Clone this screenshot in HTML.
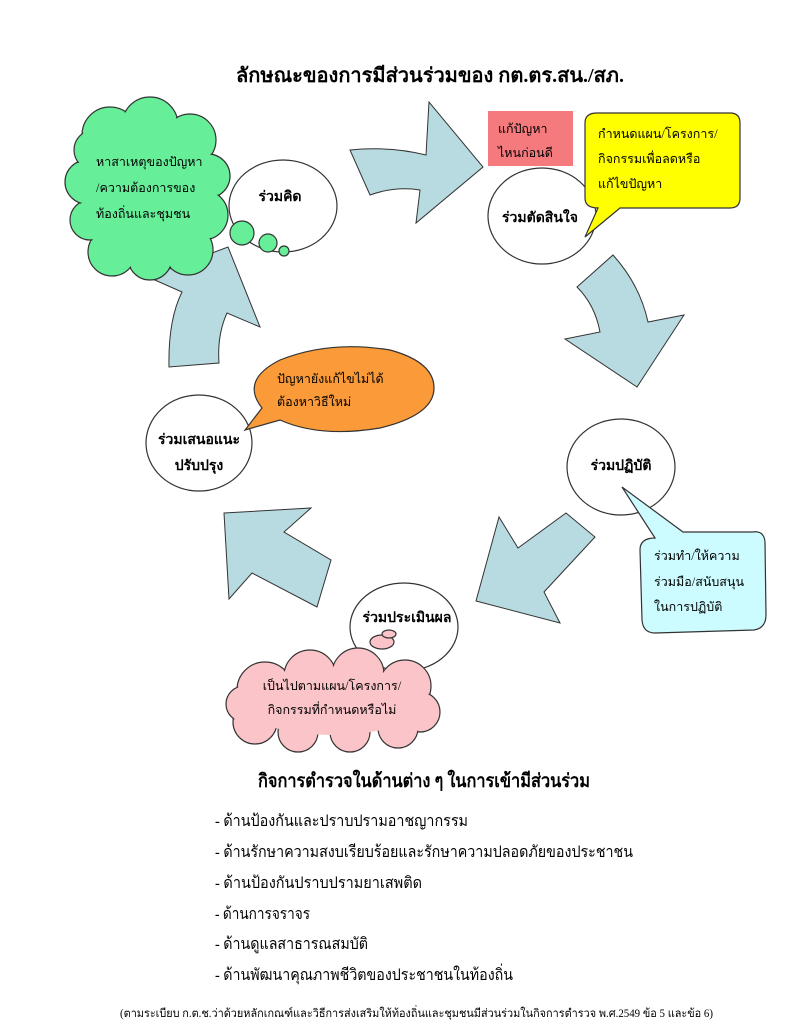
<!DOCTYPE html>
<html><head><meta charset="utf-8"><style>
html,body{margin:0;padding:0;background:#fff;width:798px;height:1024px;overflow:hidden}
svg{display:block}
text{font-family:"Liberation Serif","Noto Sans CJK SC",serif;fill:#000}
.lb{font-weight:bold;font-size:14px}
.sm{font-size:12.5px}
</style></head><body>
<svg width="798" height="1024" viewBox="0 0 798 1024" xmlns="http://www.w3.org/2000/svg">
<text x="430" y="82" text-anchor="middle" font-size="20" font-weight="bold">ลักษณะของการมีส่วนร่วมของ กต.ตร.สน./สภ.</text>

<!-- arrows -->
<g fill="#b7dbe0" stroke="#333" stroke-width="1">
<path d="M350,150 Q390,146 426,155 L429,102 L483,167 L416,223 L420,190 Q395,186 370,195 Z"/>
<path d="M577,287 L613,255 Q640,285 648,322 L684,315 L637,387 L565,339 L600,332 Q595,305 577,287 Z"/>
<polygon points="499,517 518,548 566,513 595,537 544,592 560,623 476,601"/>
<polygon points="224,513 311,508 284,532 331,560 317,607 252,573 229,599"/>
<path d="M169,367 Q168,320 182,292 L148,277 L228,247 L260,327 L227,313 Q217,335 219,363 Z"/>
</g>

<!-- green cloud -->
<g fill="#66ee99" stroke="#333" stroke-width="1.2">
<circle cx="110" cy="135" r="28"/><circle cx="150" cy="125" r="28"/><circle cx="190" cy="140" r="26"/>
<circle cx="208" cy="176" r="22"/><circle cx="203" cy="215" r="25"/><circle cx="188" cy="250" r="25"/>
<circle cx="150" cy="258" r="22"/><circle cx="112" cy="252" r="24"/><circle cx="90" cy="220" r="20"/>
<circle cx="87" cy="182" r="22"/><circle cx="94" cy="150" r="20"/>
</g>
<g fill="#66ee99">
<circle cx="110" cy="135" r="27"/><circle cx="150" cy="125" r="27"/><circle cx="190" cy="140" r="25"/>
<circle cx="208" cy="176" r="21"/><circle cx="203" cy="215" r="24"/><circle cx="188" cy="250" r="24"/>
<circle cx="150" cy="258" r="21"/><circle cx="112" cy="252" r="23"/><circle cx="90" cy="220" r="19"/>
<circle cx="87" cy="182" r="21"/><circle cx="94" cy="150" r="19"/>
<ellipse cx="148" cy="192" rx="62" ry="70"/>
</g>
<text class="sm" x="96" y="166">หาสาเหตุของปัญหา</text>
<text class="sm" x="96" y="192">/ความต้องการของ</text>
<text class="sm" x="96" y="218">ท้องถิ่นและชุมชน</text>

<!-- circles -->
<g fill="#fff" stroke="#333" stroke-width="1.2">
<ellipse cx="283" cy="206" rx="54" ry="46"/>
<ellipse cx="542" cy="216" rx="54" ry="48"/>
<ellipse cx="199" cy="443" rx="53" ry="48"/>
<ellipse cx="621" cy="467" rx="54" ry="48"/>
<ellipse cx="404" cy="627" rx="54" ry="44"/>
</g>
<g fill="#66ee99" stroke="#333" stroke-width="1.2">
<circle cx="242" cy="233" r="12"/><circle cx="268" cy="243" r="9"/><circle cx="284" cy="251" r="5"/>
</g>
<text class="lb" x="280" y="201" text-anchor="middle">ร่วมคิด</text>
<text class="lb" x="540" y="222" text-anchor="middle">ร่วมตัดสินใจ</text>
<text class="lb" x="199" y="444" text-anchor="middle">ร่วมเสนอแนะ</text>
<text class="lb" x="199" y="470" text-anchor="middle">ปรับปรุง</text>
<text class="lb" x="621" y="470" text-anchor="middle">ร่วมปฏิบัติ</text>
<text class="lb" x="407" y="622" text-anchor="middle">ร่วมประเมินผล</text>

<!-- pink rect -->
<rect x="488" y="111" width="85" height="55" fill="#f47a7e"/>
<text class="sm" x="498" y="133">แก้ปัญหา</text>
<text class="sm" x="498" y="157">ไหนก่อนดี</text>

<!-- yellow callout -->
<path d="M597,113 H730 Q740,113 740,123 V198 Q740,208 730,208 H620 L585,237 L598,208 Q585,208 585,198 V123 Q585,113 597,113 Z" fill="#ffff00" stroke="#333" stroke-width="1.2"/>
<text class="sm" x="598" y="138">กำหนดแผน/โครงการ/</text>
<text class="sm" x="598" y="163">กิจกรรมเพื่อลดหรือ</text>
<text class="sm" x="598" y="188">แก้ไขปัญหา</text>

<!-- orange -->
<path d="M262,408 Q240,380 280,360 Q330,340 390,350 Q434,362 434,388 Q434,415 380,428 Q320,438 280,420 L245,430 Z" fill="#fa9a38" stroke="#333" stroke-width="1.2"/>
<text class="sm" x="277" y="383">ปัญหายังแก้ไขไม่ได้</text>
<text class="sm" x="277" y="406">ต้องหาวิธีใหม่</text>

<!-- cyan callout -->
<path d="M655,538 L622,487 L683,532 H752 Q764,530 765,542 L766,615 Q766,628 754,630 L655,633 Q643,633 642,620 L640,550 Q640,538 655,538 Z" fill="#ccfcff" stroke="#333" stroke-width="1.2"/>
<text class="sm" x="654" y="560">ร่วมทำ/ให้ความ</text>
<text class="sm" x="654" y="586">ร่วมมือ/สนับสนุน</text>
<text class="sm" x="654" y="611">ในการปฏิบัติ</text>

<!-- pink cloud -->
<g fill="#fbc4c8" stroke="#333" stroke-width="1.2">
<circle cx="265" cy="690" r="28"/><circle cx="310" cy="676" r="26"/><circle cx="358" cy="674" r="26"/>
<circle cx="405" cy="686" r="26"/><circle cx="420" cy="712" r="20"/><circle cx="398" cy="728" r="20"/>
<circle cx="350" cy="732" r="20"/><circle cx="298" cy="732" r="20"/><circle cx="255" cy="722" r="22"/>
<circle cx="244" cy="704" r="18"/>
<ellipse cx="382" cy="642" rx="12" ry="7"/><ellipse cx="389" cy="634" rx="7" ry="4"/>
</g>
<g fill="#fbc4c8">
<circle cx="265" cy="690" r="27"/><circle cx="310" cy="676" r="25"/><circle cx="358" cy="674" r="25"/>
<circle cx="405" cy="686" r="25"/><circle cx="420" cy="712" r="19"/><circle cx="398" cy="728" r="19"/>
<circle cx="350" cy="732" r="19"/><circle cx="298" cy="732" r="19"/><circle cx="255" cy="722" r="21"/>
<circle cx="244" cy="704" r="17"/>
<ellipse cx="332" cy="705" rx="88" ry="30"/>
</g>
<text class="sm" x="332" y="690" text-anchor="middle">เป็นไปตามแผน/โครงการ/</text>
<text class="sm" x="332" y="714" text-anchor="middle">กิจกรรมที่กำหนดหรือไม่</text>

<!-- bottom -->
<text x="258" y="787" font-size="19" font-weight="bold" textLength="332" lengthAdjust="spacingAndGlyphs">กิจการตำรวจในด้านต่าง ๆ ในการเข้ามีส่วนร่วม</text>
<g font-size="16">
<text x="215" y="826" textLength="253" lengthAdjust="spacingAndGlyphs">- ด้านป้องกันและปราบปรามอาชญากรรม</text>
<text x="215" y="857" textLength="418" lengthAdjust="spacingAndGlyphs">- ด้านรักษาความสงบเรียบร้อยและรักษาความปลอดภัยของประชาชน</text>
<text x="215" y="888" textLength="207" lengthAdjust="spacingAndGlyphs">- ด้านป้องกันปราบปรามยาเสพติด</text>
<text x="215" y="919" textLength="95" lengthAdjust="spacingAndGlyphs">- ด้านการจราจร</text>
<text x="215" y="949" textLength="153" lengthAdjust="spacingAndGlyphs">- ด้านดูแลสาธารณสมบัติ</text>
<text x="215" y="980" textLength="298" lengthAdjust="spacingAndGlyphs">- ด้านพัฒนาคุณภาพชีวิตของประชาชนในท้องถิ่น</text>
</g>
<text x="120" y="1017" font-size="11.5" textLength="593" lengthAdjust="spacingAndGlyphs">(ตามระเบียบ ก.ต.ช.ว่าด้วยหลักเกณฑ์และวิธีการส่งเสริมให้ท้องถิ่นและชุมชนมีส่วนร่วมในกิจการตำรวจ พ.ศ.2549 ข้อ 5 และข้อ 6)</text>
</svg>
</body></html>
